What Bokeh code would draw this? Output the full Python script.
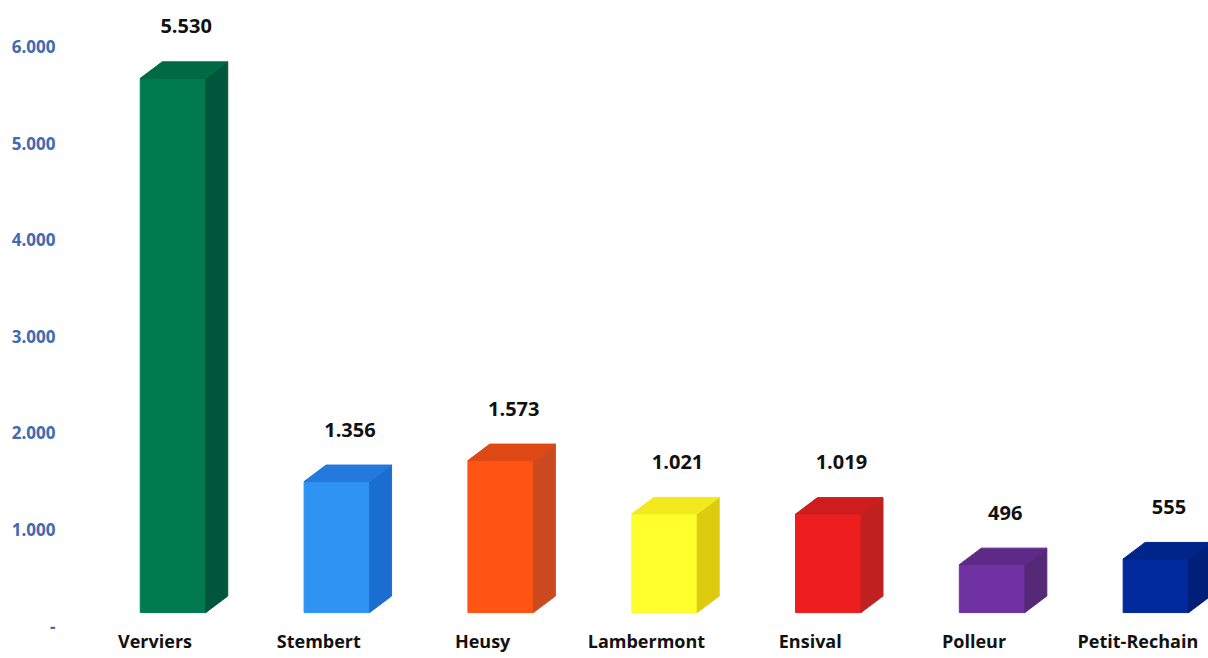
import numpy as np
from bokeh.plotting import figure
from bokeh.models import ColumnDataSource, FixedTicker, Range1d
from bokeh.core.properties import value
from bokeh.embed import file_html
from bokeh.resources import INLINE

categories = ["Verviers", "Stembert", "Heusy", "Lambermont", "Ensival", "Polleur", "Petit-Rechain"]
values = [5530, 1356, 1573, 1021, 1019, 496, 555]
value_labels = ["5.530", "1.356", "1.573", "1.021", "1.019", "496", "555"]
y_ticks = [0, 1000, 2000, 3000, 4000, 5000, 6000]
y_tick_labels = ["-", "1.000", "2.000", "3.000", "4.000", "5.000", "6.000"]
front_colors = ["#007A4F", "#2E93F2", "#FF5414", "#FFFF2E", "#EE1E1E", "#7031A2", "#00299C"]
side_colors = ["#00563B", "#1B6DD0", "#CC4A1F", "#DCCB0E", "#BF2020", "#552878", "#001F78"]
top_colors = ["#006A45", "#2379DD", "#DE4814", "#F2EA1E", "#CF1C1C", "#5E2A88", "#00258A"]

# 3D geometry (styling constants)
FLOOR = 140
X0, X1 = -0.09, 0.31
DX = 0.134
DY = 171

x = np.arange(len(categories), dtype=float)
v = np.array(values, dtype=float)
top = FLOOR + v

W, H = 1208, 658
p = figure(width=W, height=H, output_backend="svg", toolbar_location=None,
           x_range=Range1d(-0.577, 6.431), y_range=Range1d(-25, 6476),
           min_border_left=60, min_border_right=0, min_border_top=0, min_border_bottom=30,
           background_fill_color="white", border_fill_color="white")

front = ColumnDataSource(dict(left=x + X0, right=x + X1, bottom=[FLOOR] * len(x), top=top,
                              color=front_colors))
p.quad(left="left", right="right", bottom="bottom", top="top", fill_color="color",
       line_color="color", source=front)

side = ColumnDataSource(dict(
    xs=[[xi + X1, xi + X1 + DX, xi + X1 + DX, xi + X1] for xi in x],
    ys=[[FLOOR, FLOOR + DY, ti + DY, ti] for ti in top],
    color=side_colors))
p.patches(xs="xs", ys="ys", fill_color="color", line_color="color", source=side)

topf = ColumnDataSource(dict(
    xs=[[xi + X0, xi + X0 + DX, xi + X1 + DX, xi + X1] for xi in x],
    ys=[[ti, ti + DY, ti + DY, ti] for ti in top],
    color=top_colors))
p.patches(xs="xs", ys="ys", fill_color="color", line_color="color", source=topf)

lab = ColumnDataSource(dict(x=x + 0.19, y=top, text=value_labels))
p.text(x="x", y="y", text="text", source=lab, text_align="center", text_baseline="middle",
       y_offset=-52, text_font=value("Open Sans"), text_font_style="bold",
       text_font_size="20px", text_color="#111111")

# axes
p.xaxis.ticker = FixedTicker(ticks=list(x))
p.xaxis.major_label_overrides = {float(xi): c for xi, c in zip(x, categories)}
p.xaxis.major_label_text_font = "Open Sans"
p.xaxis.major_label_text_font_style = "bold"
p.xaxis.major_label_text_font_size = "18px"
p.xaxis.major_label_text_color = "#111111"
p.xaxis.major_label_standoff = 0
p.xaxis.axis_line_color = None
p.xaxis.major_tick_line_color = None
p.xaxis.minor_tick_line_color = None
p.xaxis.major_tick_out = 0
p.xaxis.major_tick_in = 0

p.yaxis.ticker = FixedTicker(ticks=y_ticks)
p.yaxis.major_label_overrides = {t: l for t, l in zip(y_ticks, y_tick_labels)}
p.yaxis.major_label_text_font = "Open Sans"
p.yaxis.major_label_text_font_style = "bold"
p.yaxis.major_label_text_font_size = "17px"
p.yaxis.major_label_text_color = "#4169B4"
p.yaxis.major_label_standoff = 5
p.yaxis.axis_line_color = None
p.yaxis.major_tick_line_color = None
p.yaxis.minor_tick_line_color = None
p.yaxis.major_tick_out = 0
p.yaxis.major_tick_in = 0

p.xgrid.grid_line_color = None
p.ygrid.grid_line_color = None
p.outline_line_color = None

open("out.html", "w").write(file_html(p, INLINE))
